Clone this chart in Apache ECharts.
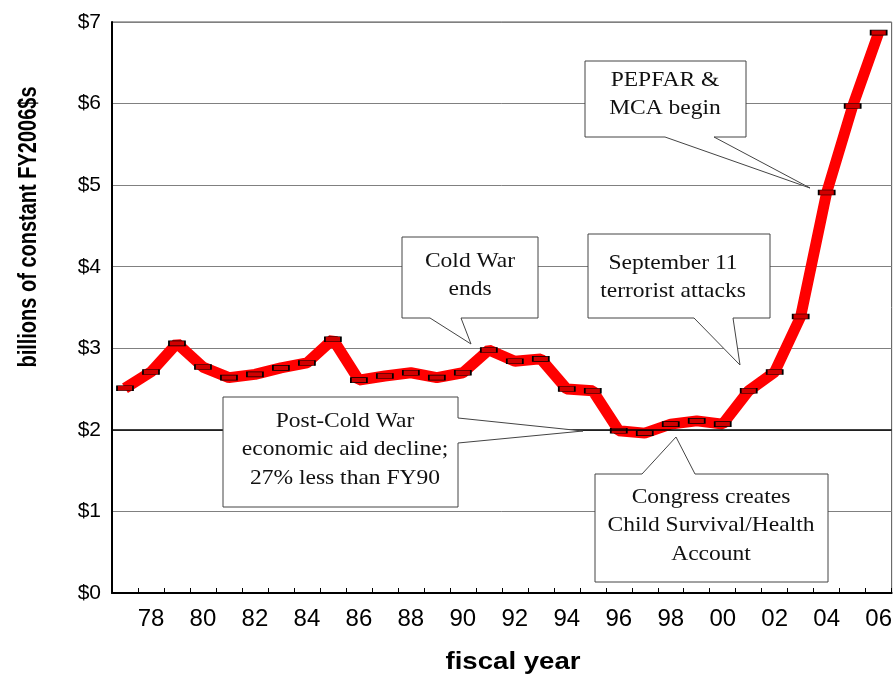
<!DOCTYPE html>
<html>
<head>
<meta charset="utf-8">
<script src="https://cdn.jsdelivr.net/npm/echarts@6/dist/echarts.min.js"></script>
<style>
  html, body {margin: 0; padding: 0; background: #fff;}
  #chart {width: 895px; height: 681px;}
</style>
</head>
<body>
<div id="chart"></div>
<script>
// fiscal years 1977 - 2006
const years = ['77','78','79','80','81','82','83','84','85','86','87','88','89','90','91',
               '92','93','94','95','96','97','98','99','00','01','02','03','04','05','06'];
// billions of constant FY2006 dollars
const aid = [2.51, 2.71, 3.06, 2.77, 2.64, 2.68, 2.76, 2.82, 3.11, 2.61,
             2.66, 2.70, 2.64, 2.70, 2.98, 2.84, 2.87, 2.50, 2.48, 1.99,
             1.96, 2.07, 2.11, 2.07, 2.48, 2.71, 3.39, 4.91, 5.97, 6.87];
const yTicks = [0, 1, 2, 3, 4, 5, 6, 7];

const serif = '"Liberation Serif", "Times New Roman", serif';
const sans = '"Liberation Sans", Arial, sans-serif';

// callout box outline with a pointer notch on one side
function callout(x0, y0, x1, y1, side, a, b, tip) {
  let pts;
  if (side === 'bottom') pts = [[x0,y0],[x1,y0],[x1,y1],[b,y1],tip,[a,y1],[x0,y1]];
  else if (side === 'top') pts = [[x0,y0],[a,y0],tip,[b,y0],[x1,y0],[x1,y1],[x0,y1]];
  else pts = [[x0,y0],[x1,y0],[x1,a],tip,[x1,b],[x1,y1],[x0,y1]];
  return {
    type: 'polygon', z: 100,
    shape: {points: pts},
    style: {fill: '#fff', stroke: '#444', lineWidth: 1}
  };
}
function lines(cx, y, arr) {
  return arr.map((t, i) => ({
    type: 'text', z: 101, x: cx, y: y + i * 28.5, scaleX: 1.12,
    style: {text: t, font: '21px ' + serif, fill: '#111', align: 'center', verticalAlign: 'middle'}
  }));
}

const chart = echarts.init(document.getElementById('chart'));
chart.setOption({
  animation: false,
  backgroundColor: '#fff',
  grid: {left: 112, right: 3, top: 22, bottom: 88, show: true, borderColor: '#555', borderWidth: 1},
  xAxis: {
    type: 'category',
    data: years,
    boundaryGap: true,
    axisLine: {lineStyle: {color: '#000', width: 2}},
    axisTick: {show: true, inside: true, length: 5, interval: 0, lineStyle: {color: '#000'}},
    axisLabel: {
      interval: (i) => i % 2 === 1,
      color: '#000', fontFamily: sans, fontSize: 24, margin: 14
    }
  },
  yAxis: {
    type: 'value',
    min: yTicks[0], max: yTicks[yTicks.length - 1], interval: 1,
    axisLine: {show: true, lineStyle: {color: '#000', width: 2}},
    axisTick: {show: false},
    splitLine: {lineStyle: {color: '#808080', width: 1}},
    axisLabel: {color: '#000', fontFamily: sans, fontSize: 21, margin: 11, formatter: (v) => '$' + v}
  },
  series: [{
    type: 'line',
    data: aid,
    symbol: 'rect',
    symbolSize: [16, 5],
    lineStyle: {color: '#ff0000', width: 11},
    itemStyle: {color: '#d00000', borderColor: '#000', borderWidth: 1},
    markLine: {
      silent: true, symbol: 'none', label: {show: false},
      lineStyle: {color: '#000', width: 1.5, type: 'solid'},
      data: [{yAxis: 2}]
    }
  }],
  graphic: [
    {type: 'text', z: 101, x: 29, y: 227, rotation: Math.PI / 2, scaleY: 1.3,
     style: {text: 'billions of constant FY2006$s', font: 'bold 20px ' + sans, fill: '#000',
             align: 'center', verticalAlign: 'middle'}},
    {type: 'text', z: 101, x: 513, y: 662, scaleX: 1.15,
     style: {text: 'fiscal year', font: 'bold 24px ' + sans, fill: '#000',
             align: 'center', verticalAlign: 'middle'}},
    callout(585, 61, 746, 137, 'bottom', 665, 714, [810, 188]),
    ...lines(665, 80, ['PEPFAR &', 'MCA begin']),
    callout(402, 237, 538, 318, 'bottom', 430, 461, [471, 344]),
    ...lines(470, 261, ['Cold War', 'ends']),
    callout(588, 234, 770, 318, 'bottom', 694, 733, [740, 365]),
    ...lines(673, 263, ['September 11', 'terrorist attacks']),
    callout(223, 397, 458, 507, 'right', 418, 443, [583, 431]),
    ...lines(345, 421, ['Post-Cold War', 'economic aid decline;', '27% less than FY90']),
    callout(595, 474, 828, 582, 'top', 642, 695, [676, 437]),
    ...lines(711, 497, ['Congress creates', 'Child Survival/Health', 'Account'])
  ]
});
</script>
</body>
</html>
